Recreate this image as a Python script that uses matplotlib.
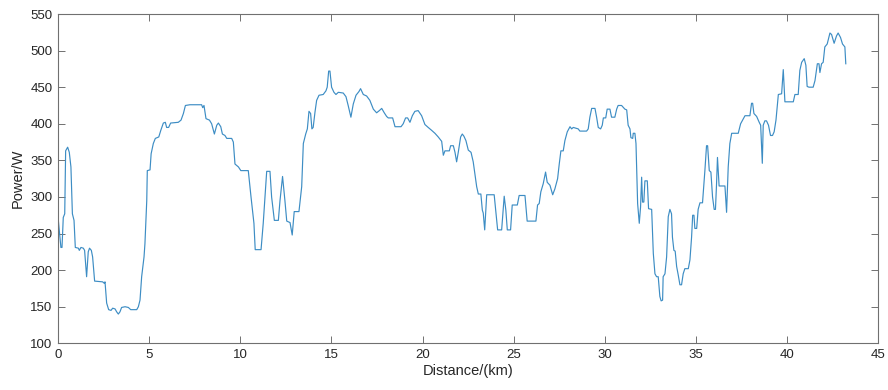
import matplotlib.pyplot as plt

# distance (km) and power (W)
distance = [0.0, 0.16, 0.22, 0.29, 0.37, 0.42, 0.53, 0.62, 0.71, 0.79, 0.88, 0.95,
            1.12, 1.17, 1.26, 1.39, 1.46, 1.57, 1.66, 1.73, 1.83, 1.90, 2.01, 2.45,
            2.54, 2.58, 2.67, 2.78, 2.91, 3.0, 3.13, 3.22, 3.31, 3.4, 3.49, 3.68,
            3.86, 3.99, 4.32, 4.41, 4.5, 4.59, 4.72, 4.77, 4.87, 4.9, 5.05, 5.11,
            5.23, 5.34, 5.53, 5.64, 5.78, 5.89, 5.96, 6.07, 6.18, 6.6, 6.75, 6.88,
            6.99, 7.24, 7.79, 7.88, 7.94, 8.01, 8.12, 8.31, 8.43, 8.58, 8.71, 8.8,
            8.93, 9.02, 9.16, 9.26, 9.53, 9.62, 9.71, 9.9, 10.03, 10.44, 10.59, 10.75,
            10.82, 11.14, 11.26, 11.45, 11.63, 11.72, 11.87, 12.09, 12.18, 12.32, 12.45, 12.55,
            12.73, 12.85, 12.96, 13.22, 13.37, 13.46, 13.59, 13.68, 13.77, 13.86, 13.93, 14.0,
            14.1, 14.19, 14.32, 14.55, 14.7, 14.77, 14.85, 14.92, 15.01, 15.14, 15.25, 15.38,
            15.65, 15.8, 15.92, 16.07, 16.2, 16.35, 16.51, 16.6, 16.75, 16.93, 17.11, 17.3,
            17.48, 17.63, 17.76, 17.9, 18.03, 18.12, 18.36, 18.49, 18.82, 18.94, 19.07, 19.18,
            19.31, 19.44, 19.58, 19.76, 19.95, 20.13, 20.31, 20.5, 20.68, 20.86, 21.05, 21.14,
            21.23, 21.47, 21.54, 21.69, 21.78, 21.87, 21.96, 22.09, 22.18, 22.27, 22.38, 22.51,
            22.66, 22.78, 22.97, 23.06, 23.2, 23.28, 23.33, 23.41, 23.52, 23.93, 24.12, 24.34,
            24.48, 24.57, 24.65, 24.83, 24.92, 25.2, 25.3, 25.62, 25.74, 26.22, 26.31, 26.4,
            26.49, 26.62, 26.75, 26.84, 26.99, 27.14, 27.26, 27.41, 27.5, 27.59, 27.72, 27.81,
            27.94, 28.09, 28.18, 28.27, 28.54, 28.63, 29.0, 29.09, 29.18, 29.28, 29.46, 29.55,
            29.64, 29.77, 29.86, 29.92, 30.05, 30.13, 30.28, 30.37, 30.55, 30.65, 30.73, 30.92,
            31.1, 31.2, 31.28, 31.38, 31.43, 31.53, 31.56, 31.65, 31.71, 31.74, 31.8, 31.89,
            31.96, 32.02, 32.07, 32.14, 32.2, 32.33, 32.4, 32.57, 32.66, 32.75, 32.84, 32.93,
            33.02, 33.09, 33.17, 33.2, 33.3, 33.39, 33.48, 33.57, 33.66, 33.71, 33.79, 33.86,
            33.94, 34.03, 34.12, 34.21, 34.3, 34.39, 34.58, 34.67, 34.76, 34.82, 34.89, 34.94,
            35.04, 35.12, 35.22, 35.36, 35.49, 35.58, 35.64, 35.73, 35.82, 35.91, 36.0, 36.07,
            36.13, 36.18, 36.27, 36.59, 36.68, 36.77, 36.86, 36.96, 37.32, 37.45, 37.56, 37.69,
            37.96, 38.05, 38.11, 38.18, 38.33, 38.47, 38.55, 38.64, 38.69, 38.78, 38.87, 38.98,
            39.09, 39.2, 39.29, 39.39, 39.52, 39.7, 39.79, 39.88, 40.34, 40.43, 40.61, 40.7,
            40.8, 40.94, 41.03, 41.1, 41.2, 41.43, 41.53, 41.66, 41.75, 41.8, 41.89, 41.98,
            42.07, 42.2, 42.35, 42.44, 42.58, 42.71, 42.8, 42.93, 43.04, 43.17, 43.22]
power = [273, 231, 231, 272, 277, 363, 368, 361, 341, 277, 268, 231,
         230, 227, 231, 230, 227, 191, 225, 230, 227, 218, 185, 184,
         182, 184, 155, 146, 145, 148, 147, 143, 140, 143, 149, 150,
         149, 146, 146, 150, 159, 191, 218, 236, 295, 336, 337, 359,
         373, 380, 382, 391, 401, 402, 395, 395, 401, 402, 405, 414,
         425, 426, 426, 426, 422, 425, 407, 405, 400, 386, 398, 401,
         396, 386, 384, 380, 380, 375, 345, 341, 336, 336, 300, 264,
         228, 228, 264, 335, 335, 300, 268, 268, 295, 328, 295, 267,
         265, 248, 280, 280, 314, 373, 386, 393, 417, 414, 393, 395,
         416, 432, 439, 440, 445, 450, 472, 472, 450, 443, 440, 443,
         442, 437, 425, 409, 427, 439, 444, 448, 440, 438, 432, 420,
         415, 418, 421, 415, 410, 408, 408, 396, 396, 400, 408, 408,
         402, 411, 417, 418, 411, 399, 395, 391, 387, 382, 376, 357,
         363, 363, 370, 370, 361, 348, 361, 382, 386, 383, 377, 364,
         361, 348, 314, 304, 304, 282, 278, 255, 303, 303, 255, 255,
         301, 282, 255, 255, 289, 289, 302, 302, 267, 267, 289, 291,
         307, 318, 334, 320, 316, 303, 311, 325, 345, 363, 363, 377,
         389, 396, 393, 395, 393, 390, 390, 393, 409, 421, 421, 409,
         395, 393, 398, 408, 408, 420, 420, 409, 409, 420, 425, 425,
         420, 419, 398, 393, 381, 380, 387, 387, 373, 345, 291, 264,
         286, 327, 293, 293, 322, 322, 284, 283, 223, 195, 191, 191,
         164, 158, 159, 191, 195, 218, 273, 283, 277, 245, 227, 226,
         205, 193, 180, 180, 195, 202, 202, 214, 245, 275, 275, 257,
         257, 283, 292, 292, 336, 370, 370, 336, 334, 300, 283, 283,
         318, 354, 315, 315, 279, 341, 373, 387, 387, 400, 405, 411,
         411, 428, 428, 414, 410, 402, 398, 346, 398, 404, 404, 398,
         384, 384, 389, 405, 440, 441, 474, 430, 430, 440, 440, 473,
         484, 489, 480, 451, 450, 450, 459, 482, 482, 470, 482, 484,
         505, 509, 524, 522, 510, 520, 524, 518, 509, 505, 482]

x_ticks = [0, 5, 10, 15, 20, 25, 30, 35, 40, 45]
y_ticks = [100, 150, 200, 250, 300, 350, 400, 450, 500, 550]

plt.rcParams['font.family'] = ['Liberation Sans', 'DejaVu Sans']

fig = plt.figure(figsize=(8.88, 3.9), dpi=100)
ax = fig.add_axes([0.0653, 0.1197, 0.9237, 0.8444])
ax.plot(distance, power, color='#3d8dc4', linewidth=0.85)

ax.set_xlim(0, 45)
ax.set_ylim(100, 550)
ax.set_xticks(x_ticks)
ax.set_yticks(y_ticks)
ax.tick_params(direction='in', top=True, right=True, length=5, width=0.7,
               color='#707070', labelcolor='#262626', labelsize=9.5, pad=4)
for s in ax.spines.values():
    s.set_linewidth(0.8)
    s.set_color('#707070')
ax.set_xlabel('Distance/(km)', fontsize=10.5, color='#262626', labelpad=2)
ax.set_ylabel('Power/W', fontsize=10.5, color='#262626', labelpad=4)

fig.savefig('out.png', dpi=100)
